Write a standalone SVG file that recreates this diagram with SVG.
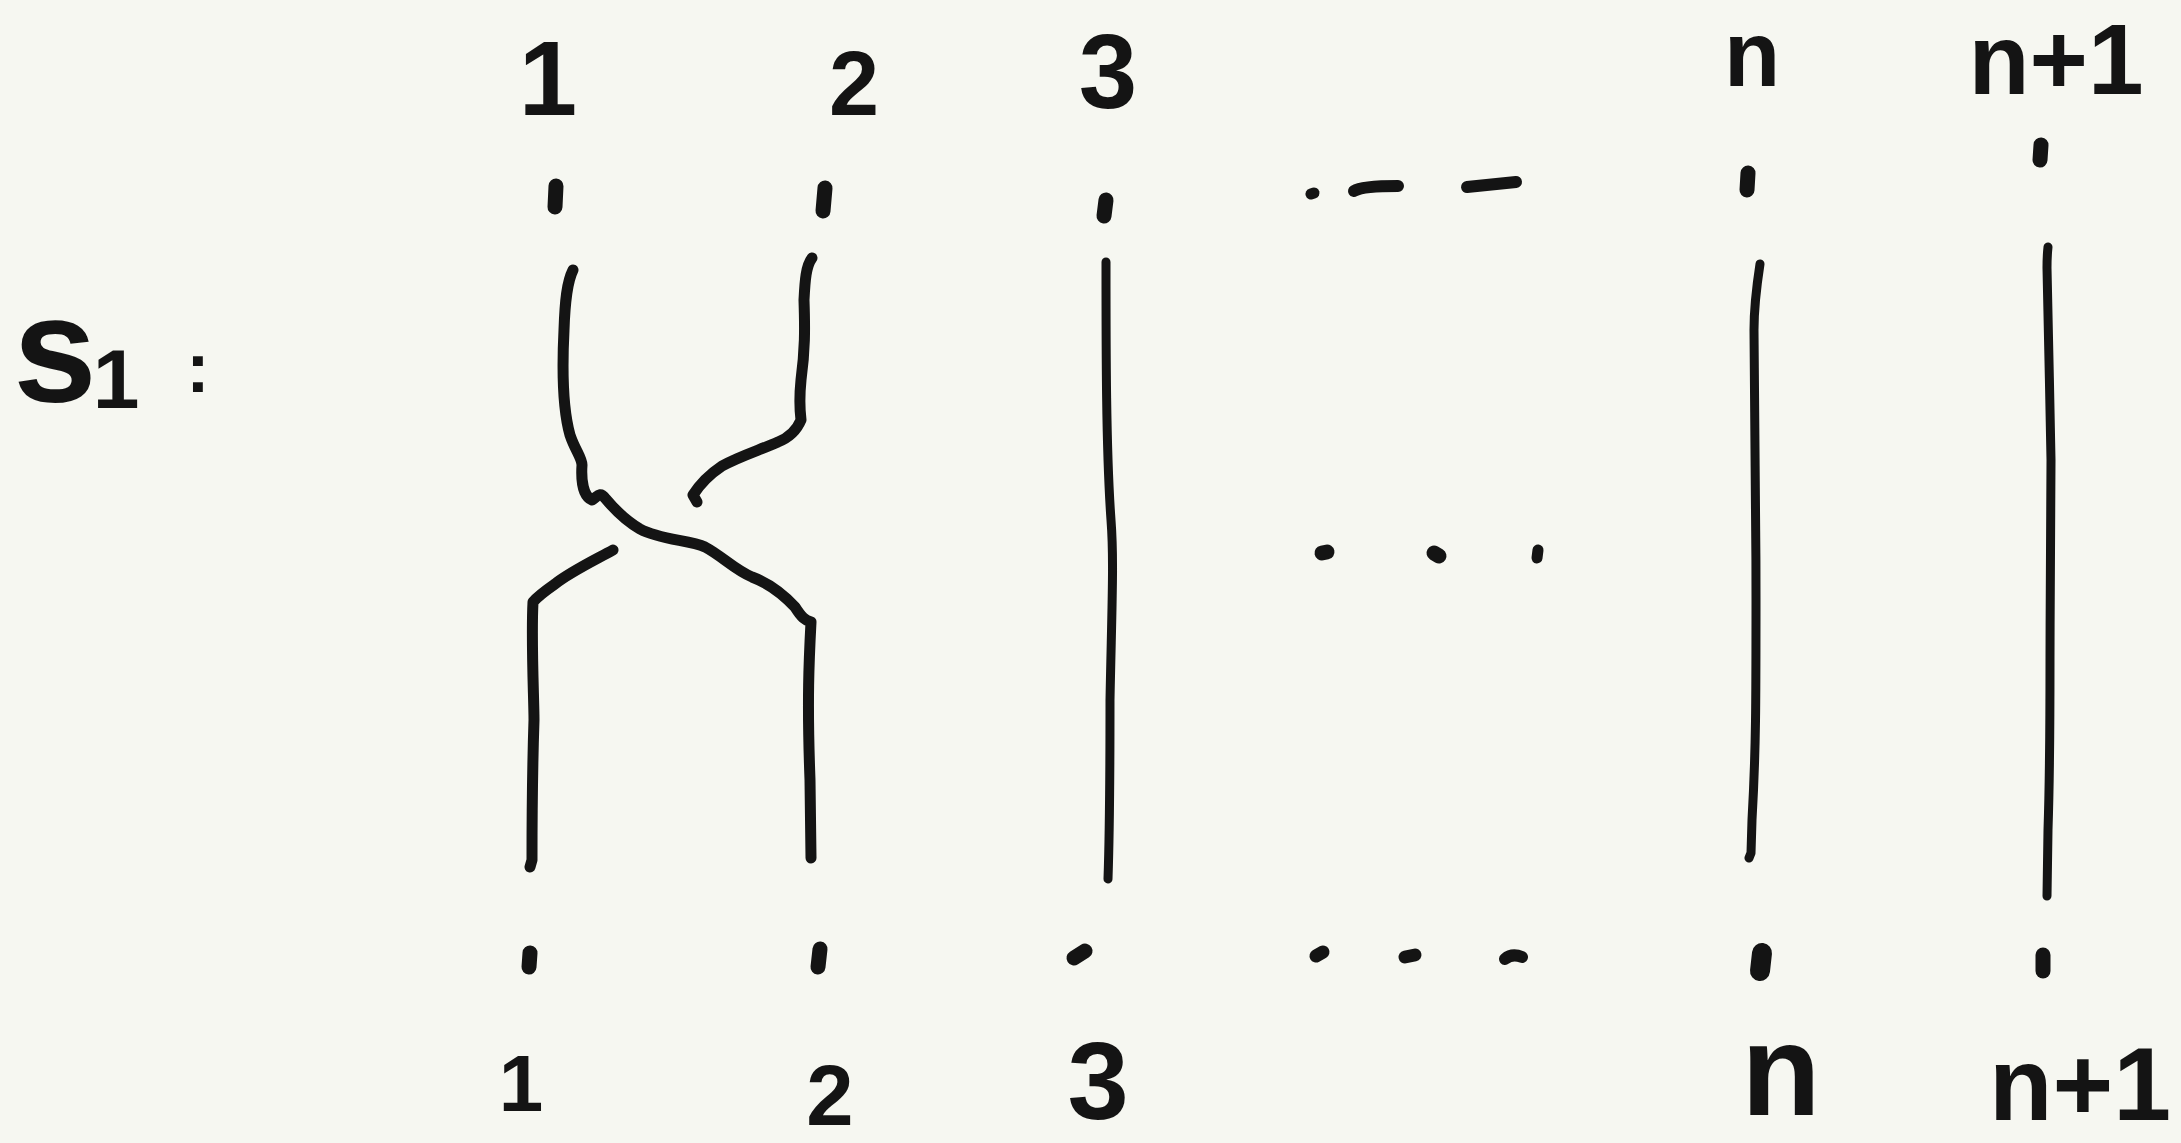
<svg xmlns="http://www.w3.org/2000/svg" width="2181" height="1143" viewBox="0 0 2181 1143">
<style>
.bg{fill:#f6f7f1}
.s{fill:none;stroke:#141414;stroke-width:9;stroke-linecap:round;stroke-linejoin:round}
.x{stroke-width:11}
.d{fill:none;stroke:#141414;stroke-width:15;stroke-linecap:round}
.t{font-family:"Liberation Sans",Arial,sans-serif;font-weight:bold;fill:#141414;text-anchor:middle}
</style>
<rect class="bg" x="0" y="0" width="2181" height="1143"/>
<g id="label-s1">
<text class="t" x="55" y="402" font-size="150">s</text>
<text class="t" x="116" y="408" font-size="84">1</text>
<text class="t" x="198" y="392" font-size="70">:</text>
</g>
<g id="top-labels">
<text class="t" x="548" y="115" font-size="105">1</text>
<text class="t" x="854" y="115" font-size="90">2</text>
<text class="t" x="1108" y="108" font-size="105">3</text>
<text class="t" x="1752" y="86" font-size="92">n</text>
<text class="t" x="2056" y="94" font-size="100">n+1</text>
</g>
<g id="bottom-labels">
<text class="t" x="521" y="1111" font-size="80">1</text>
<text class="t" x="830" y="1125" font-size="85">2</text>
<text class="t" x="1098" y="1119" font-size="110">3</text>
<text class="t" x="1781" y="1115" font-size="130">n</text>
<text class="t" x="2080" y="1120" font-size="104">n+1</text>
</g>
<g id="points">
<line class="d" x1="556" y1="186" x2="555" y2="207"/>
<line class="d" x1="825" y1="188" x2="823" y2="211"/>
<line class="d" x1="1106" y1="200" x2="1104" y2="216"/>
<line class="d" x1="1748" y1="173" x2="1747" y2="190"/>
<line class="d" x1="2041" y1="145" x2="2040" y2="160"/>
<line class="d" x1="530" y1="953" x2="529" y2="967"/>
<line class="d" x1="820" y1="949" x2="818" y2="967"/>
<line class="d" x1="1074" y1="958" x2="1085" y2="951"/>
<line class="d" x1="1762" y1="953" x2="1760" y2="971" style="stroke-width:20"/>
<line class="d" x1="2043" y1="955" x2="2043" y2="971"/>
</g>
<g id="ellipses">
<line class="d" x1="1311" y1="194" x2="1314" y2="193" style="stroke-width:11"/>
<path class="d" d="M1354,191 Q1362,186 1398,186" style="stroke-width:12"/>
<line class="d" x1="1467" y1="187" x2="1516" y2="182" style="stroke-width:12"/>
<line class="d" x1="1322" y1="553" x2="1327" y2="552"/>
<line class="d" x1="1434" y1="553" x2="1439" y2="556"/>
<line class="d" x1="1538" y1="550" x2="1537" y2="558" style="stroke-width:11"/>
<line class="d" x1="1316" y1="956" x2="1323" y2="952" style="stroke-width:13"/>
<line class="d" x1="1405" y1="957" x2="1415" y2="955" style="stroke-width:13"/>
<path class="d" d="M1505,959 Q1512,953 1522,957" style="stroke-width:12"/>
</g>
<g id="connectors">
<path id="strand-1" class="s x" d="M573,270 C567,282 565,300 564,330 C562,370 563,410 570,435 C575,450 582,458 582,465 C581,480 583,496 592,500 C597,497 600,491 605,498 C615,510 628,522 640,529 C660,540 690,540 705,547 C722,556 735,570 752,577 C768,583 782,593 795,607 C802,618 805,620 811,622 C809,660 807,700 810,780 L811,858"/>
<path id="strand-2" class="s x" d="M812,258 C806,266 805,280 804,300 C805,330 805,350 801,380 C799,400 800,412 801,420 C796,432 788,438 778,442 C760,450 740,456 722,466 C710,474 700,484 693,495 L697,502"/>
<path id="strand-2-lower" class="s x" d="M613,550 C595,560 570,572 555,584 C545,591 538,596 533,602 C531,640 534,700 534,720 C532,780 532,830 532,860 L530,867"/>
<path id="strand-3" class="s" d="M1106,262 C1106,350 1106,450 1111,520 C1114,560 1112,600 1110,700 C1110,800 1109,850 1108,879"/>
<path id="strand-n" class="s" d="M1760,264 C1756,290 1754,310 1754,330 C1755,450 1756,520 1756,600 C1756,700 1756,750 1752,820 L1751,853 L1749,858"/>
<path id="strand-n1" class="s" d="M2048,247 C2047,256 2047,262 2047,268 C2048,320 2050,400 2051,460 C2051,550 2050,600 2050,660 C2050,745 2049,800 2048,830 L2047,896"/>
</g>
</svg>
